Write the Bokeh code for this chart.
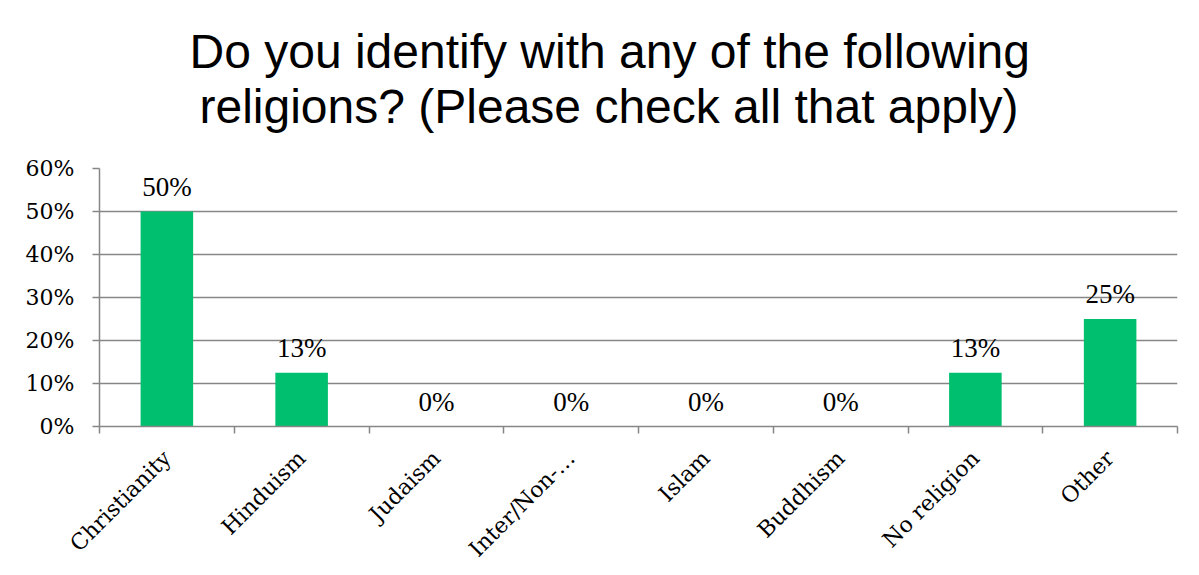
import math
from bokeh.plotting import figure
from bokeh.models import (Range1d, FixedTicker, NumeralTickFormatter, ColumnDataSource,
                          LabelSet, Title)
from bokeh.embed import file_html
from bokeh.resources import INLINE

categories = ["Christianity", "Hinduism", "Judaism", "Inter/Non-\u2026", "Islam",
              "Buddhism", "No religion", "Other"]
values = [0.50, 0.125, 0.0, 0.0, 0.0, 0.0, 0.125, 0.25]
y_ticks = [0.0, 0.1, 0.2, 0.3, 0.4, 0.5, 0.6]
title_line1 = "Do you identify with any of the following"
title_line2 = "religions? (Please check all that apply)"

GRAY = "#868686"
GREEN = "#00BF6F"
SERIF = "DejaVu Serif"

xs = [i + 0.5 for i in range(len(categories))]
labels = [f"{int(v * 100 + 0.5)}%" for v in values]
src = ColumnDataSource(dict(x=xs, top=values, label=labels))

p = figure(width=1198, height=574, output_backend="svg", toolbar_location=None,
           x_range=Range1d(0, len(categories)), y_range=Range1d(0, 0.6),
           min_border_left=99, min_border_right=21, min_border_top=168,
           min_border_bottom=148)
p.outline_line_color = None

p.vbar(x="x", top="top", bottom=0, width=0.39, source=src, fill_color=GREEN,
       line_color=None)

p.add_layout(LabelSet(x="x", y="top", text="label", source=src, y_offset=16,
                      text_align="center", text_baseline="alphabetic",
                      text_font=SERIF, text_font_size="27px", text_color="black"))

# titles: spacer nearest the plot, then line 2, then line 1 (p.title, outermost)
p.title = Title(text=title_line1, text_font="Liberation Sans", text_font_size="48px",
                text_font_style="normal", text_color="black", align="left", offset=90,
                standoff=0, text_line_height=0.8)
p.add_layout(Title(text=" ", text_font_size="1px", standoff=33), "above")
p.add_layout(Title(text=title_line2, text_font="Liberation Sans", text_font_size="48px",
                   text_font_style="normal", text_color="black", align="left", offset=100,
                   standoff=0, text_line_height=0.8), "above")

# x axis
xa = p.xaxis[0]
xa.ticker = FixedTicker(ticks=xs, minor_ticks=list(range(len(categories) + 1)))
xa.major_label_overrides = {x: c for x, c in zip(xs, categories)}
xa.major_label_orientation = math.pi / 4
xa.major_tick_out = 0
xa.major_tick_in = 0
xa.minor_tick_out = 7
xa.minor_tick_in = 0
xa.minor_tick_line_color = GRAY
xa.minor_tick_line_width = 1.5
xa.axis_line_color = GRAY
xa.axis_line_width = 1.5
xa.major_label_text_font = SERIF
xa.major_label_text_font_size = "22px"
xa.major_label_text_color = "black"
xa.major_label_standoff = 21

# y axis
ya = p.yaxis[0]
ya.ticker = FixedTicker(ticks=y_ticks)
ya.formatter = NumeralTickFormatter(format="0%")
ya.major_tick_out = 7
ya.major_tick_in = 0
ya.minor_tick_out = 0
ya.minor_tick_in = 0
ya.major_tick_line_color = GRAY
ya.major_tick_line_width = 1.5
ya.axis_line_color = GRAY
ya.axis_line_width = 1.5
ya.major_label_text_font = SERIF
ya.major_label_text_font_size = "22px"
ya.major_label_text_color = "black"
ya.major_label_standoff = 18

p.xgrid.grid_line_color = None
p.ygrid.ticker = FixedTicker(ticks=y_ticks)
p.ygrid.grid_line_color = GRAY
p.ygrid.grid_line_width = 1.5

open("out.html", "w").write(file_html(p, INLINE))
